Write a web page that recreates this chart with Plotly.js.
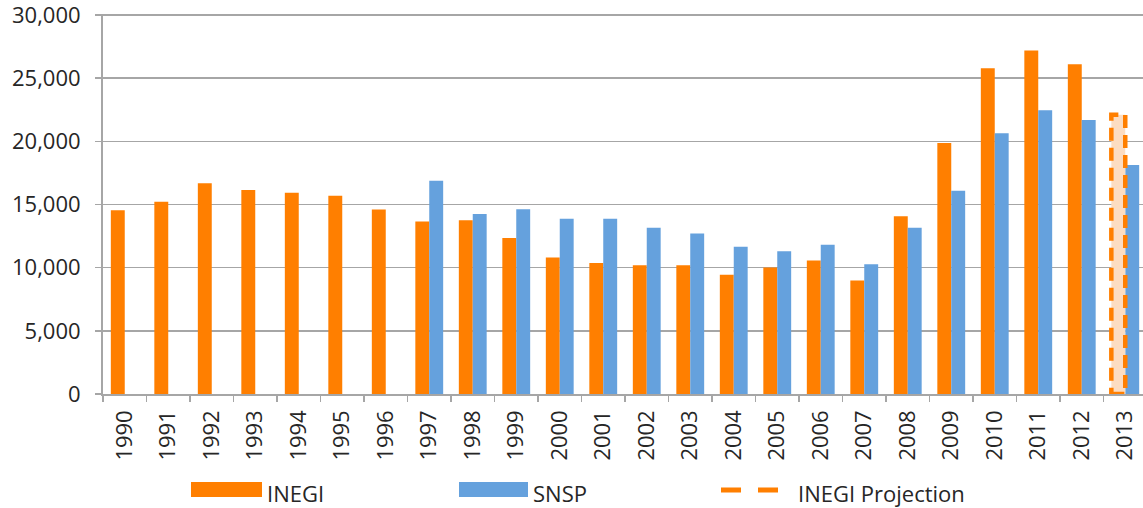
<!DOCTYPE html>
<html>
<head>
<meta charset="utf-8">
<script src="https://cdn.plot.ly/plotly-3.0.1.min.js"></script>
<style>
  html, body { margin: 0; padding: 0; overflow: hidden; background: #fff; }
  #chart { width: 1150px; height: 508px; }
</style>
</head>
<body>
<div id="chart"></div>
<script>
// ---- Data ----
const years = ['1990','1991','1992','1993','1994','1995','1996','1997','1998','1999','2000','2001',
               '2002','2003','2004','2005','2006','2007','2008','2009','2010','2011','2012','2013'];

const inegiYears = years.slice(0, 23); // 1990-2012
const inegiValues = [14550, 15220, 16690, 16140, 15930, 15690, 14610, 13660, 13760, 12340, 10810, 10360,
                     10200, 10200, 9440, 10020, 10570, 8990, 14080, 19860, 25790, 27200, 26110];

const snspYears = years.slice(7); // 1997-2013
const snspValues = [16880, 14240, 14630, 13870, 13870, 13160, 12710, 11660, 11300, 11810, 10280,
                    13160, 16090, 20650, 22470, 21680, 18120];

const projectionYears = ['2013'];
const projectionValues = [22100];

const seriesNames = ['INEGI', 'SNSP', 'INEGI Projection'];
const yTickValues = [0, 5000, 10000, 15000, 20000, 25000, 30000];

// ---- Styling ----
const ORANGE = '#FF7F00';
const BLUE = '#65A1DD';
const PEACH = '#FCDDC2';
const GRID = '#a6a6a6';
const TEXT = '#262626';
const FONT = 'Open Sans, sans-serif';
const BARGAP = 0.36;

// plot-area pixel geometry (for placing the hand-made legend)
const L = 103, R = 3, T = 14, B = 114, W = 1150, H = 508;
const PW = W - L - R, PH = H - T - B;
const px = x => (x - L) / PW;
const py = y => (H - B - y) / PH;

const traces = [
  {
    type: 'bar', name: seriesNames[0], x: inegiYears, y: inegiValues,
    offsetgroup: 'inegi', marker: { color: ORANGE }, showlegend: false, hoverinfo: 'x+y'
  },
  {
    type: 'bar', name: seriesNames[1], x: snspYears, y: snspValues,
    offsetgroup: 'snsp', marker: { color: BLUE }, showlegend: false, hoverinfo: 'x+y'
  },
  {
    type: 'bar', name: seriesNames[2], x: projectionYears, y: projectionValues,
    offsetgroup: 'inegi', marker: { color: PEACH }, showlegend: false, hoverinfo: 'x+y'
  }
];

// dashed outline of projection bar, positioned through the category axis
const projIndex = years.indexOf(projectionYears[0]);
const halfGroup = (1 - BARGAP) / 2;

const shapes = [
  {
    type: 'rect', xref: 'x', yref: 'y',
    x0: projIndex - halfGroup, x1: projIndex, y0: 0, y1: projectionValues[0],
    line: { color: ORANGE, width: 4.5, dash: '13px,7px' }, fillcolor: 'rgba(0,0,0,0)'
  },
  // legend swatches
  { type: 'rect', xref: 'paper', yref: 'paper', x0: px(191), x1: px(262), y0: py(497), y1: py(482),
    fillcolor: ORANGE, line: { width: 0 } },
  { type: 'rect', xref: 'paper', yref: 'paper', x0: px(459), x1: px(528), y0: py(497), y1: py(482),
    fillcolor: BLUE, line: { width: 0 } },
  { type: 'line', xref: 'paper', yref: 'paper', x0: px(721), x1: px(779), y0: py(490), y1: py(490),
    line: { color: ORANGE, width: 5, dash: '20px,17px' } }
];

const legendFont = { family: FONT, size: 22, color: TEXT };
const annotations = [
  { text: seriesNames[0], x: px(265), y: py(493), xref: 'paper', yref: 'paper', xanchor: 'left', yanchor: 'middle', showarrow: false, font: legendFont },
  { text: seriesNames[1], x: px(531), y: py(493), xref: 'paper', yref: 'paper', xanchor: 'left', yanchor: 'middle', showarrow: false, font: legendFont },
  { text: seriesNames[2], x: px(796), y: py(493), xref: 'paper', yref: 'paper', xanchor: 'left', yanchor: 'middle', showarrow: false, font: legendFont }
];

const layout = {
  width: W, height: H,
  margin: { l: L, r: R, t: T, b: B, pad: 0 },
  paper_bgcolor: '#fff', plot_bgcolor: '#fff',
  barmode: 'group', bargap: BARGAP, bargroupgap: 0,
  showlegend: false,
  font: { family: FONT, color: TEXT },
  xaxis: {
    type: 'category', categoryorder: 'array', categoryarray: years,
    showline: true, linecolor: GRID, linewidth: 1.5,
    ticks: 'outside', tickson: 'boundaries', ticklen: 6, tickcolor: GRID, tickwidth: 1.5,
    tickangle: -90, tickfont: { family: FONT, size: 22, color: TEXT },
    ticklabelstandoff: 6,
    showgrid: false, zeroline: false, fixedrange: true
  },
  yaxis: {
    range: [0, 30080], tickmode: 'array', tickvals: yTickValues, tickformat: ',d',
    showline: true, linecolor: GRID, linewidth: 2,
    ticks: 'outside', ticklen: 6, tickcolor: GRID, tickwidth: 1.5,
    showgrid: true, gridcolor: GRID, gridwidth: 1.5, zeroline: false,
    tickfont: { family: FONT, size: 22, color: TEXT },
    ticklabelstandoff: 10, ticklabeloverflow: 'allow', fixedrange: true
  },
  shapes: shapes,
  annotations: annotations
};

Plotly.newPlot('chart', traces, layout, { displayModeBar: false, staticPlot: true });
</script>
</body>
</html>
